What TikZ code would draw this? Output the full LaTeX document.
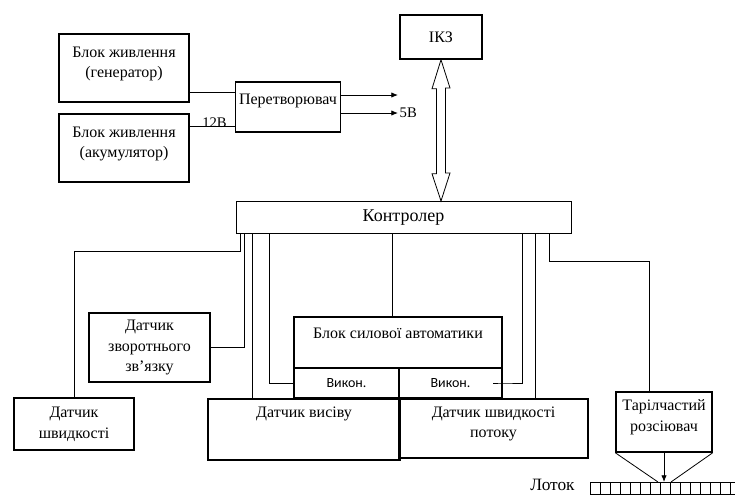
\documentclass[tikz,border=0pt]{standalone}
\usepackage{fontspec}
\setmainfont{Liberation Serif}
\newfontfamily\calfont{Carlito}
\usetikzlibrary{arrows.meta}

\tikzset{
  blk/.style 2 args={draw, line width=1.1pt, inner sep=0pt, align=center,
    minimum width=#1*0.75pt, minimum height=#2*0.75pt,
    font=\fontsize{12}{15.5}\selectfont},
  wire/.style={line width=0.6pt},
  outarrow/.style={wire, -{Latex[length=5pt,width=4pt]}}
}

\begin{document}
\begin{tikzpicture}[x=0.75pt,y=-0.75pt]
    \useasboundingbox (0,0) rectangle (735,496);

    % power part
    \node [blk={130}{68}] (gen) at (124,68)
    {Блок живлення\\(генератор)\\[-7pt]\mbox{}};
    \node [blk={130}{68}] (akk) at (124,148)
    {Блок живлення\\(акумулятор)\\[-7pt]\mbox{}};
    \node [blk={105}{50}] (conv) at (288,107) {Перетворювач\\[-4pt]\mbox{}};

    \draw [wire] (gen.east |- 0,92) -- (conv.west |- 0,92);
    \draw [wire] (akk.east |- 0,126) -- node [pos=0.55,anchor=base,yshift=-1pt,
    font=\fontsize{11}{13}\selectfont] {12В} (conv.west |- 0,126);

    \coordinate (o1) at (398,95);
    \coordinate (o2) at (398,113);
    \draw [outarrow] (conv.east |- o1) -- (o1);
    \draw [outarrow] (conv.east |- o2) -- (o2)
    node [right,inner sep=1pt,font=\fontsize{11}{13}\selectfont] {5В};

    % controller
    \node [blk={82}{44}] (ikz) at (441,37) {ІКЗ};
    \node [blk={335}{32}, line width=0.7pt, font=\fontsize{13.5}{16}\selectfont]
    (ctrl) at (403.5,217.5) {Контролер};

    \draw [line width=0.6pt] (ikz.south) -- ++(-9,29) -- ++(4.5,0) -- ++(0,85)
    -- ++(-4.5,0) -- (ikz.south |- ctrl.north) -- ++(9,-28) -- ++(-4.5,0)
    -- ++(0,-85) -- ++(4.5,0) -- cycle;

    % sensors and actuators
    \node [blk={121}{69}] (fb) at (149.5,347.5)
    {Датчик\\зворотнього\\зв’язку};
    \node [blk={120}{52}] (spd) at (74,424) {Датчик\\швидкості};
    \node [blk={192}{61},
    label={[anchor=north,yshift=-3pt,font=\fontsize{12}{15.5}\selectfont]north:Датчик висіву}]
    (sow) at (304,429.5) {};
    \node [blk={208}{51}] (power) at (398,342.5)
    {Блок силової автоматики\\[-2pt]\mbox{}};
    \node [blk={105}{30}, font=\calfont\fontsize{10.5}{12}\selectfont]
    (ex1) at (346.5,383) {Викон.};
    \node [blk={103}{30}, font=\calfont\fontsize{10.5}{12}\selectfont]
    (ex2) at (450.5,383) {Викон.};
    \node [blk={189}{59}] (flow) at (493.5,428.5)
    {Датчик швидкості\\потоку\\[-6pt]\mbox{}};
    \node [blk={96}{60}] (sprd) at (664,422)
    {Тарілчастий\\розсіювач\\[-6pt]\mbox{}};

    % controller lines
    \draw [wire] (ctrl.south west) ++(5,0) -- ++(0,17) -| (spd.north);
    \draw [wire] (ctrl.south west) ++(9,0) |- (fb.east);
    \draw [wire] (ctrl.south west) ++(17,0) coordinate (c3) -- (c3 |- sow.north);
    \draw [wire] (ctrl.south west) ++(34,0) |- (ex1.west);
    \draw [wire] (ctrl.south) ++(-11,0) coordinate (c5) -- (c5 |- power.north);
    \draw [wire] (ctrl.south east) ++(-49,0) |- (ex2.east) -- ++(-10,0);
    \draw [wire] (ctrl.south east) ++(-36,0) coordinate (c7) -- (c7 |- flow.north);
    \draw [wire] (ctrl.south east) ++(-22,0) -- ++(0,27) -- ++(100,0)
    coordinate (c8) -- (c8 |- sprd.north);

    % tray
    \node [draw, line width=0.6pt, inner sep=0pt, anchor=north west,
    minimum width=145*0.75pt, minimum height=12*0.75pt,
    label={[label distance=8pt,yshift=2.5pt,font=\fontsize{13}{15}\selectfont]left:Лоток}]
    (tray) at (590,482) {};
    \foreach \i in {1,...,14}
      \draw [wire] (tray.north west) ++(\i*10,0) -- ++(0,12);

    \draw [wire] (sprd.south west) -- (658,482);
    \draw [wire] (sprd.south east) -- (671,482);
    \draw [outarrow] (sprd.south) -- (sprd.south |- tray.north);
  \end{tikzpicture}
\end{document}
